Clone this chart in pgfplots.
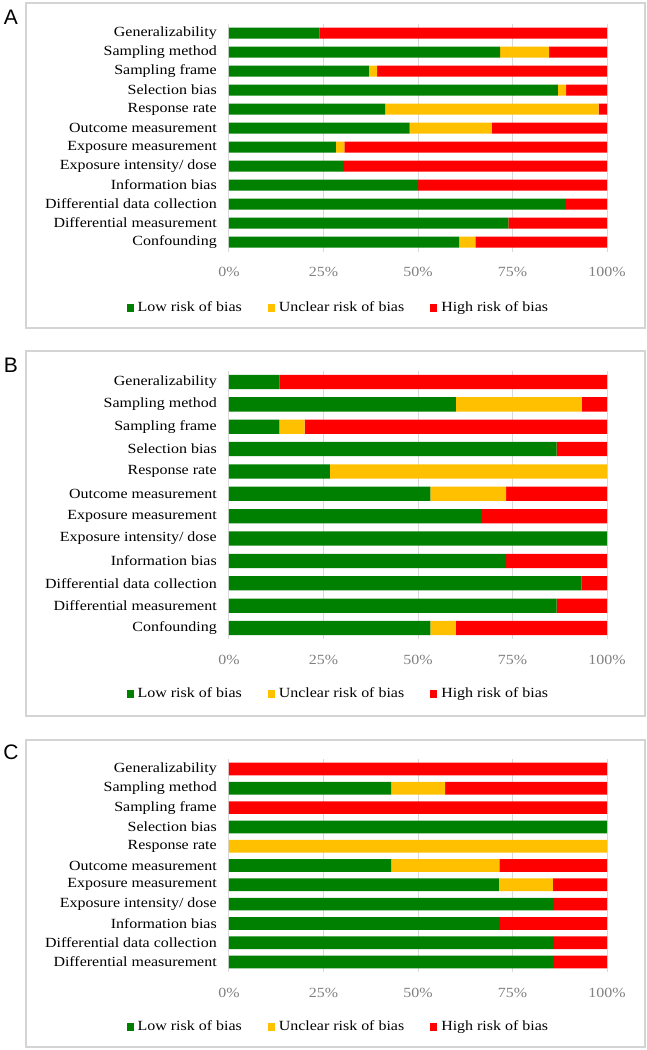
\documentclass[border=0pt]{standalone}
\usepackage{fontspec}
\setmainfont[FakeStretch=1.14]{Liberation Serif}
\newfontfamily\letterfont{Liberation Sans}
\usepackage{pgfplots}
\usepackage{pgfplotstable}
\pgfplotsset{compat=1.18}

\definecolor{lowc}{HTML}{008000}
\definecolor{unclc}{HTML}{FFC000}
\definecolor{highc}{HTML}{FF0000}
\definecolor{gridc}{HTML}{D9D9D9}
\definecolor{framec}{HTML}{D4D4D4}
\definecolor{tickc}{HTML}{808080}

% panel A, n = 46
\pgfplotstableread{
low  uncl high
23.9 0    76.1
71.7 13.0 15.3
37.0 2.2  60.8
87.0 2.2  10.8
41.3 56.5 2.2
47.8 21.7 30.5
28.3 2.2  69.5
30.4 0    69.6
50.0 0    50.0
89.1 0    10.9
73.9 0    26.1
60.9 4.3  34.8
}\dataA

% panel B, n = 15
\pgfplotstableread{
low   uncl high
13.3  0    86.7
60.0  33.3 6.7
13.3  6.7  80.0
86.7  0    13.3
26.7  73.3 0
53.3  20.0 26.7
66.7  0    33.3
100.0 0    0
73.3  0    26.7
93.3  0    6.7
86.7  0    13.3
53.3  6.7  40.0
}\dataB

% panel C, n = 7
\pgfplotstableread{
low   uncl  high
0     0     100.0
42.9  14.3  42.8
0     0     100.0
100.0 0     0
0     100.0 0
42.9  28.6  28.5
71.4  14.3  14.3
85.7  0     14.3
71.4  0     28.6
85.7  0     14.3
85.7  0     14.3
}\dataC

\pgfplotsset{
  robpanel/.style={
    xbar stacked,
    scale only axis,
    width=189pt,
    anchor=south west,
    xmin=0, xmax=100,
    y dir=reverse,
    ymin=-0.5,
    axis line style={draw=none},
    major tick length=0pt,
    xtick={0,25,50,75,100},
    xticklabel={\pgfmathprintnumber{\tick}\%},
    xticklabel style={text=tickc, font=\fontsize{7}{8}\selectfont, yshift=-4.5pt},
    yticklabel style={font=\fontsize{7}{8}\selectfont, xshift=-2.6pt},
    /pgf/number format/assume math mode=true,
    ytick={0,...,11},
    xmajorgrids,
    grid style={gridc, line width=0.5pt},
    legend columns=3,
    legend cell align=left,
    legend style={draw=none, fill=none, anchor=center,
      font=\fontsize{7}{8}\selectfont,
      /tikz/every even column/.append style={column sep=11pt}},
    legend image code/.code={\fill[##1] (0pt,-2pt) rectangle (3.5pt,2.1pt);},
  },
}

\newcommand{\robplots}[1]{%
  \addplot[fill=lowc, draw=none] table[x=low, y expr=\coordindex] {#1};
  \addplot[fill=unclc, draw=none] table[x=uncl, y expr=\coordindex] {#1};
  \addplot[fill=highc, draw=none] table[x=high, y expr=\coordindex] {#1};
  \legend{Low risk of bias, Unclear risk of bias, High risk of bias}
}

\begin{document}
\begin{tikzpicture}
  \path[use as bounding box] (0pt,0pt) rectangle (323.5pt,-525pt);
  \draw[framec, line width=0.6pt] (13pt,-1.5pt) rectangle (322.5pt,-164pt);
  \draw[framec, line width=0.6pt] (13pt,-175.5pt) rectangle (322.5pt,-358pt);
  \draw[framec, line width=0.6pt] (13pt,-370pt) rectangle (322.5pt,-523.5pt);
  \node[font=\letterfont\fontsize{10.5}{12}\selectfont] at (5.5pt,-8.75pt) {A};
  \node[font=\letterfont\fontsize{10.5}{12}\selectfont] at (5.5pt,-182.5pt) {B};
  \node[font=\letterfont\fontsize{10.5}{12}\selectfont] at (5.5pt,-376pt) {C};

  \begin{axis}[robpanel,
    at={(114.5pt,-125.75pt)},
    height=114pt,
    ymax=11.5,
    bar width=5.5pt,
    yticklabels={Generalizability, Sampling method, Sampling frame, Selection bias,
      Response rate, Outcome measurement, Exposure measurement,
      Exposure intensity/ dose, Information bias, Differential data collection,
      Differential measurement, Confounding},
    legend style={at={(0.292,-0.248)}},
  ]
    \robplots{\dataA}
  \end{axis}

  \begin{axis}[robpanel,
    at={(114.5pt,-319.6pt)},
    height=134.2pt,
    ymax=11.5,
    bar width=7.15pt,
    yticklabels={Generalizability, Sampling method, Sampling frame, Selection bias,
      Response rate, Outcome measurement, Exposure measurement,
      Exposure intensity/ dose, Information bias, Differential data collection,
      Differential measurement, Confounding},
    legend style={at={(0.292,-0.204)}},
  ]
    \robplots{\dataB}
  \end{axis}

  \begin{axis}[robpanel,
    at={(114.5pt,-485.825pt)},
    height=106.15pt,
    ymax=10.5,
    ytick={0,...,10},
    bar width=6.35pt,
    yticklabels={Generalizability, Sampling method, Sampling frame, Selection bias,
      Response rate, Outcome measurement, Exposure measurement,
      Exposure intensity/ dose, Information bias, Differential data collection,
      Differential measurement},
    legend style={at={(0.292,-0.26)}},
  ]
    \robplots{\dataC}
  \end{axis}
\end{tikzpicture}
\end{document}
